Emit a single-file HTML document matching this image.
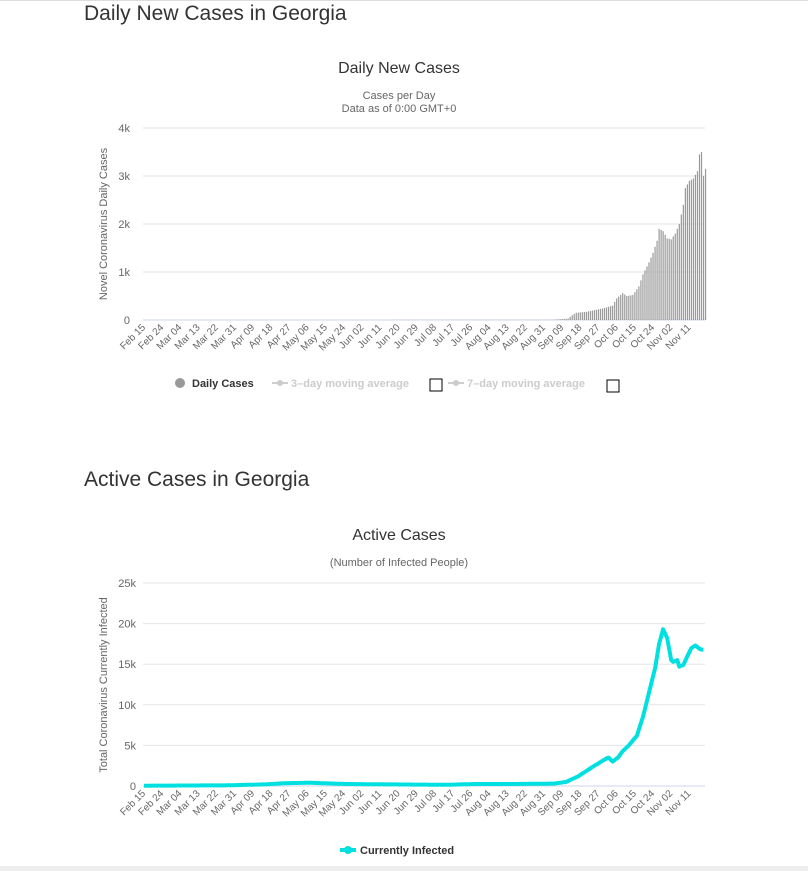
<!DOCTYPE html>
<html><head><meta charset="utf-8"><style>
body{margin:0;background:#fff;font-family:"Liberation Sans",sans-serif;width:808px;height:871px;overflow:hidden;position:relative}
h2{position:absolute;left:84px;margin:0;font-weight:normal;font-size:21px;color:#333}
</style></head><body>
<div style="position:absolute;left:0;top:0;width:808px;height:1px;background:#ddd"></div>
<h2 style="top:2px">Daily New Cases in Georgia</h2>
<h2 style="top:468px">Active Cases in Georgia</h2>
<div style="position:absolute;left:0;top:866px;width:808px;height:5px;background:#eee"></div>
<svg id="s" width="808" height="871" style="position:absolute;left:0;top:0" font-family="Liberation Sans, sans-serif"></svg>
<script>
const s=document.getElementById('s');let h='';
const X=d=>144+d*2.02;
h+='<text x="399" y="73" text-anchor="middle" font-size="16" fill="#333">Daily New Cases</text>';
h+='<text x="399" y="99" text-anchor="middle" font-size="11" fill="#666">Cases per Day</text>';
h+='<text x="399" y="112" text-anchor="middle" font-size="11" fill="#666">Data as of 0:00 GMT+0</text>';
h+='<text transform="translate(107,224) rotate(-90)" text-anchor="middle" font-size="11" fill="#666">Novel Coronavirus Daily Cases</text>';
['0','1k','2k','3k','4k'].forEach((t,i)=>{let y=320-i*48;h+=`<line x1="143" x2="705" y1="${y}" y2="${y}" stroke="${i?'#e6e6e6':'#ccd6eb'}"/><text x="130" y="${y+4}" text-anchor="end" font-size="11" fill="#666">${t}</text>`;});
const lab=['Feb 15','Feb 24','Mar 04','Mar 13','Mar 22','Mar 31','Apr 09','Apr 18','Apr 27','May 06','May 15','May 24','Jun 02','Jun 11','Jun 20','Jun 29','Jul 08','Jul 17','Jul 26','Aug 04','Aug 13','Aug 22','Aug 31','Sep 09','Sep 18','Sep 27','Oct 06','Oct 15','Oct 24','Nov 02','Nov 11'];
function labels(y){lab.forEach((t,i)=>{let x=X(i*9)+2;h+=`<text transform="translate(${x},${y}) rotate(-45)" text-anchor="end" font-size="10" fill="#666">${t}</text>`;});}
labels(328);
function interp(p,d){for(let i=0;i<p.length-1;i++){if(d>=p[i][0]&&d<=p[i+1][0]){let t=(d-p[i][0])/(p[i+1][0]-p[i][0]);return p[i][1]+t*(p[i+1][1]-p[i][1]);}}return d<p[0][0]?p[0][1]:p[p.length-1][1];}
const bp0=[[0,0],[198,5],[206,30],[208,100],[210,150],[215,170],[224,250],[228,300],[230,450],[233,560],[235,500],[238,520],[241,700],[243,950],[246,1200],[248,1400],[250,1650],[251,1900],[253,1850],[255,1700],[257,1680],[259,1800],[261,2000],[263,2400],[264,2750],[266,2900],[268,2950],[270,3100],[271,3450],[272,3500],[273,3000],[274,3150]];
const bp=bp0.map(p=>[p[0]?p[0]+4:0,p[1]]);
for(let d=0;d<=278;d++){let v=interp(bp,d);if(v<3)continue;let hh=v*0.048;h+=`<rect x="${X(d)-0.6}" y="${320-hh}" width="1.2" height="${hh}" fill="#999"/>`;}
h+='<circle cx="180" cy="383" r="5" fill="#999"/><text x="192" y="387" font-size="11" font-weight="bold" fill="#333">Daily Cases</text>';
h+='<line x1="272" x2="288" y1="383" y2="383" stroke="#ccc" stroke-width="2"/><circle cx="280" cy="383" r="3" fill="#ccc"/><text x="291" y="387" font-size="11" font-weight="bold" fill="#ccc">3–day moving average</text>';
h+='<rect x="430" y="379" width="12" height="12" fill="none" stroke="#000"/>';
h+='<line x1="448" x2="464" y1="383" y2="383" stroke="#ccc" stroke-width="2"/><circle cx="456" cy="383" r="3" fill="#ccc"/><text x="467" y="387" font-size="11" font-weight="bold" fill="#ccc">7–day moving average</text>';
h+='<rect x="607" y="380" width="12" height="12" fill="none" stroke="#000"/>';
h+='<text x="399" y="540" text-anchor="middle" font-size="16" fill="#333">Active Cases</text>';
h+='<text x="399" y="566" text-anchor="middle" font-size="11" fill="#666">(Number of Infected People)</text>';
h+='<text transform="translate(107,685) rotate(-90)" text-anchor="middle" font-size="11" fill="#666">Total Coronavirus Currently Infected</text>';
['0','5k','10k','15k','20k','25k'].forEach((t,i)=>{let y=786-i*40.6;h+=`<line x1="143" x2="705" y1="${y}" y2="${y}" stroke="${i?'#e6e6e6':'#ccd6eb'}"/><text x="136" y="${y+4}" text-anchor="end" font-size="11" fill="#666">${t}</text>`;});
labels(794);
const ap0=[[0,40],[40,80],[60,200],[70,350],[82,400],[100,250],[120,200],[150,150],[165,250],[185,250],[200,300],[206,500],[212,1200],[220,2500],[226,3400],[227,3500],[229,3000],[232,3600],[234,4300],[237,5000],[241,6200],[244,8500],[247,11500],[250,14500],[252,17500],[254,19300],[256,18200],[258,15500],[259,15300],[261,15500],[262,14700],[264,14900],[266,16000],[268,17000],[270,17300],[272,16900],[273,16800]];
const ap=ap0.map(p=>[p[0]>=200?p[0]+3:p[0],p[1]]);
let pts=[];for(let d=0;d<=277;d++){pts.push(X(d).toFixed(1)+','+(786-interp(ap,d)*0.00812).toFixed(1));}
h+=`<polyline points="${pts.join(' ')}" fill="none" stroke="#00e0e0" stroke-width="4" stroke-linejoin="round"/>`;
h+='<line x1="340" x2="356" y1="850" y2="850" stroke="#00e0e0" stroke-width="4"/><circle cx="348" cy="850" r="4" fill="#00e0e0"/><text x="360" y="854" font-size="11" font-weight="bold" fill="#333">Currently Infected</text>';
s.innerHTML=h;
</script>
</body></html>
